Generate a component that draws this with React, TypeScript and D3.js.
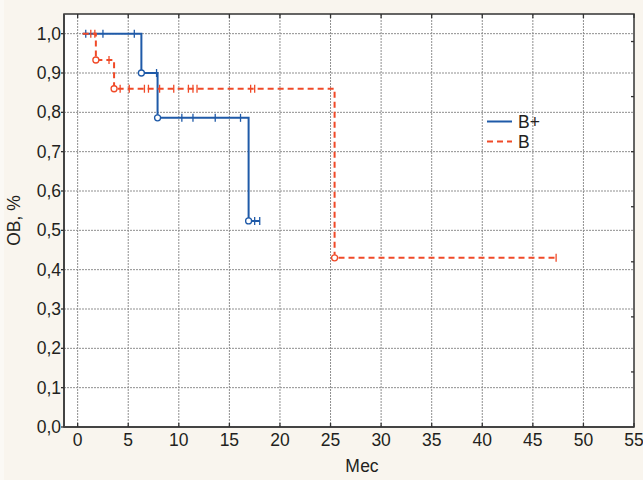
import * as d3 from 'd3'

const width = 643,
      height = 480,
      margin = { top: 14, right: 9, bottom: 53, left: 64 },
      plotW = width - margin.left - margin.right,
      plotH = height - margin.top - margin.bottom,
      font = '"Liberation Sans", Arial, sans-serif',
      fontSize = 17.5,
      blue = '#1f5aa8',
      red = '#f04a28'

// x ticks (months) and y ticks (survival share)
const xTicks = d3.range(0, 56, 5)
const yTicks = d3.range(0, 11).map(d => d / 10)

// B+ : events (drops) and censored observations
const bPlusStart = 0.5
const bPlusEvents = [
  { t: 6.3, s: 0.9 },
  { t: 7.9, s: 0.786 },
  { t: 16.9, s: 0.524 },
]
const bPlusCensored = [0.8, 2.5, 5.6, 7.8, 10.3, 11.4, 13.6, 16.1, 17.5, 18.0]

// B
const bStart = 0.5
const bEvents = [
  { t: 1.8, s: 0.933 },
  { t: 3.6, s: 0.86 },
  { t: 25.4, s: 0.43 },
]
const bCensored = [1.3, 1.7, 3.1, 4.2, 5.1, 6.6, 7.0, 8.1, 9.5, 10.95, 11.4, 11.8, 17.1, 17.5, 47.3]

const x = d3.scaleLinear().domain([-1.35, 55]).range([0, plotW])
const y = d3.scaleLinear().domain([0, 1.05]).range([plotH, 0])
// the right frame carries its own unlabeled ticks
const yRight = d3.scaleLinear().domain([0, 7.5]).range([plotH, 0])

const fmt = (v: number) => d3.format('.1f')(v).replace('.', ',')

const levelAt = (events: { t: number, s: number }[], t: number) => {
  let s = 1
  events.forEach(e => { if (e.t <= t) s = e.s })
  return s
}

const line = d3.line<[number, number]>()
  .x(d => x(d[0]))
  .y(d => y(d[1]))
  .curve(d3.curveStepAfter)

const Series = ({ start, events, censored, color, dash }: any) => {
  const end = d3.max(censored as number[])!
  const pts: [number, number][] = [[start, 1], ...events.map((e: any) => [e.t, e.s] as [number, number])]
  pts.push([end, levelAt(events, end)])
  return (
    <g>
      <path d={line(pts)!} fill='none' stroke={color} strokeWidth={2} strokeDasharray={dash} />
      {censored.map((t: number, i: number) => {
        const cy = y(levelAt(events, t))
        return <line key={i} x1={x(t)} x2={x(t)} y1={cy - 4} y2={cy + 4} stroke={color} strokeWidth={1.3} />
      })}
      {events.map((e: any, i: number) =>
        <circle key={i} cx={x(e.t)} cy={y(e.s)} r={3} fill='#fff' stroke={color} strokeWidth={1.3} />
      )}
    </g>
  )
}

export default function App() {
  return (
    <svg width={width} height={height} style={{ position: 'absolute', left: 0, top: 0, background: '#f9f5ee' }}>
      <rect x={0} y={0} width={4} height={height} fill='#fbf9f5' />
      <g transform={`translate(${margin.left}, ${margin.top})`}>
        <rect width={plotW} height={plotH} fill='#fff' />

        <g className='grid'>
          {xTicks.filter(t => t < 55).map(t =>
            <line key={t} x1={x(t)} x2={x(t)} y1={0} y2={plotH} stroke='#8f8f8f' strokeWidth={1} strokeDasharray='2,1' />
          )}
          {yTicks.filter(t => t > 0).map(t =>
            <line key={t} x1={0} x2={plotW} y1={y(t)} y2={y(t)} stroke='#8f8f8f' strokeWidth={1} strokeDasharray='2,1' />
          )}
        </g>

        <Series start={bPlusStart} events={bPlusEvents} censored={bPlusCensored} color={blue} />
        <Series start={bStart} events={bEvents} censored={bCensored} color={red} dash='6,4' />

        <rect width={plotW} height={plotH} fill='none' stroke='#333' strokeWidth={1.5} />
        <line x1={0} x2={0} y1={0} y2={plotH} stroke='#444' strokeWidth={2} />
        <line x1={0} x2={plotW} y1={plotH} y2={plotH} stroke='#444' strokeWidth={2} />

        <g className='ticks'>
          {xTicks.map(t => <g key={t}>
            <line x1={x(t)} x2={x(t)} y1={plotH} y2={plotH - 4} stroke='#333' strokeWidth={1.3} />
            <line x1={x(t)} x2={x(t)} y1={0} y2={4} stroke='#333' strokeWidth={1.3} />
            <text x={x(t)} y={plotH + 19} textAnchor='middle' fontFamily={font} fontSize={fontSize} fill='#231f20'>{t}</text>
          </g>)}
          {yTicks.map(t => <g key={t}>
            <line x1={-3} x2={0} y1={y(t)} y2={y(t)} stroke='#333' strokeWidth={1.3} />
            <text x={-3} y={y(t)} dy='0.35em' textAnchor='end' fontFamily={font} fontSize={fontSize} fill='#231f20'>{fmt(t)}</text>
          </g>)}
          {d3.range(1, 8).map(t =>
            <line key={t} x1={plotW - 3} x2={plotW} y1={yRight(t)} y2={yRight(t)} stroke='#333' strokeWidth={1.3} />
          )}
        </g>

        <g className='legend' transform='translate(423, 107.5)'>
          <line x1={0} x2={25} y1={0} y2={0} stroke={blue} strokeWidth={2} />
          <text x={31} y={0} dy='0.35em' fontFamily={font} fontSize={fontSize} fill='#231f20'>B+</text>
          <line x1={0} x2={25} y1={20} y2={20} stroke={red} strokeWidth={2} strokeDasharray='6,4' />
          <text x={31} y={20} dy='0.35em' fontFamily={font} fontSize={fontSize} fill='#231f20'>B</text>
        </g>

        <text x={plotW / 2 + 13} y={plotH + 45} textAnchor='middle' fontFamily={font} fontSize={fontSize} fill='#231f20'>Мес</text>
        <text transform={`translate(${-44}, ${plotH / 2}) rotate(-90)`} textAnchor='middle' fontFamily={font} fontSize={fontSize} fill='#231f20'>ОВ, %</text>
      </g>
    </svg>
  )
}
